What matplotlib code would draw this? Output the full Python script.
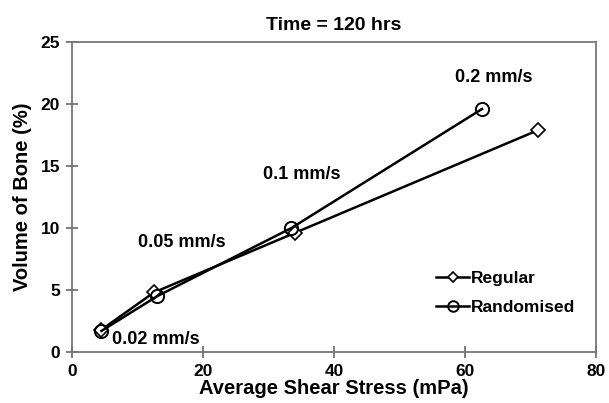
import numpy as np
import matplotlib.pyplot as plt

plt.rcParams['font.family'] = ['Liberation Sans', 'DejaVu Sans']
plt.rcParams['font.weight'] = 'bold'

reg_x = [4.5, 12.5, 34.0, 71.2]
reg_y = [1.8, 4.8, 9.6, 17.9]
ran_x = [4.5, 13.0, 33.5, 62.6]
ran_y = [1.7, 4.5, 10.0, 19.6]

speed_labels = ["0.02 mm/s", "0.05 mm/s", "0.1 mm/s", "0.2 mm/s"]
label_x = [6.1, 10.0, 29.1, 58.5]
label_y = [1.0, 8.8, 14.3, 22.1]

fig = plt.figure(figsize=(6.09, 4.03), dpi=100)
ax = fig.add_axes([72/609, 1 - 352/403, 524/609, 310/403])

ax.plot(reg_x, reg_y, c="black", lw=1.8, marker="D", ms=7, mfc="white", mec="black", mew=1.2, label="Regular")
ax.plot(ran_x, ran_y, c="black", lw=1.8, marker="o", ms=9.5, mfc="none", mec="black", mew=1.4, label="Randomised")

for t, x, y in zip(speed_labels, label_x, label_y):
    ax.text(x, y, t, fontsize=13, fontweight="bold", va="center")

ax.set_xlim(0, 80)
ax.set_ylim(0, 25)
ax.set_xticks([0, 20, 40, 60, 80])
ax.set_yticks([0, 5, 10, 15, 20, 25])
ax.tick_params(labelsize=12.5, direction="inout", length=9, width=1.2, color="#666666", pad=4)
for s in ax.spines.values():
    s.set_color("#777777")
    s.set_linewidth(1.3)

ax.set_xlabel("Average Shear Stress (mPa)", fontsize=14.5, fontweight="bold", labelpad=0)
ax.set_ylabel("Volume of Bone (%)", fontsize=14.5, fontweight="bold", labelpad=6)
ax.set_title("Time = 120 hrs", fontsize=14, fontweight="bold", pad=9)

ax.legend(loc="lower right", bbox_to_anchor=(0.99, 0.07), frameon=False, fontsize=12.5,
          handlelength=1.9, handletextpad=0.1, labelspacing=0.8, markerscale=0.8)

plt.savefig("out.png", dpi=100)
